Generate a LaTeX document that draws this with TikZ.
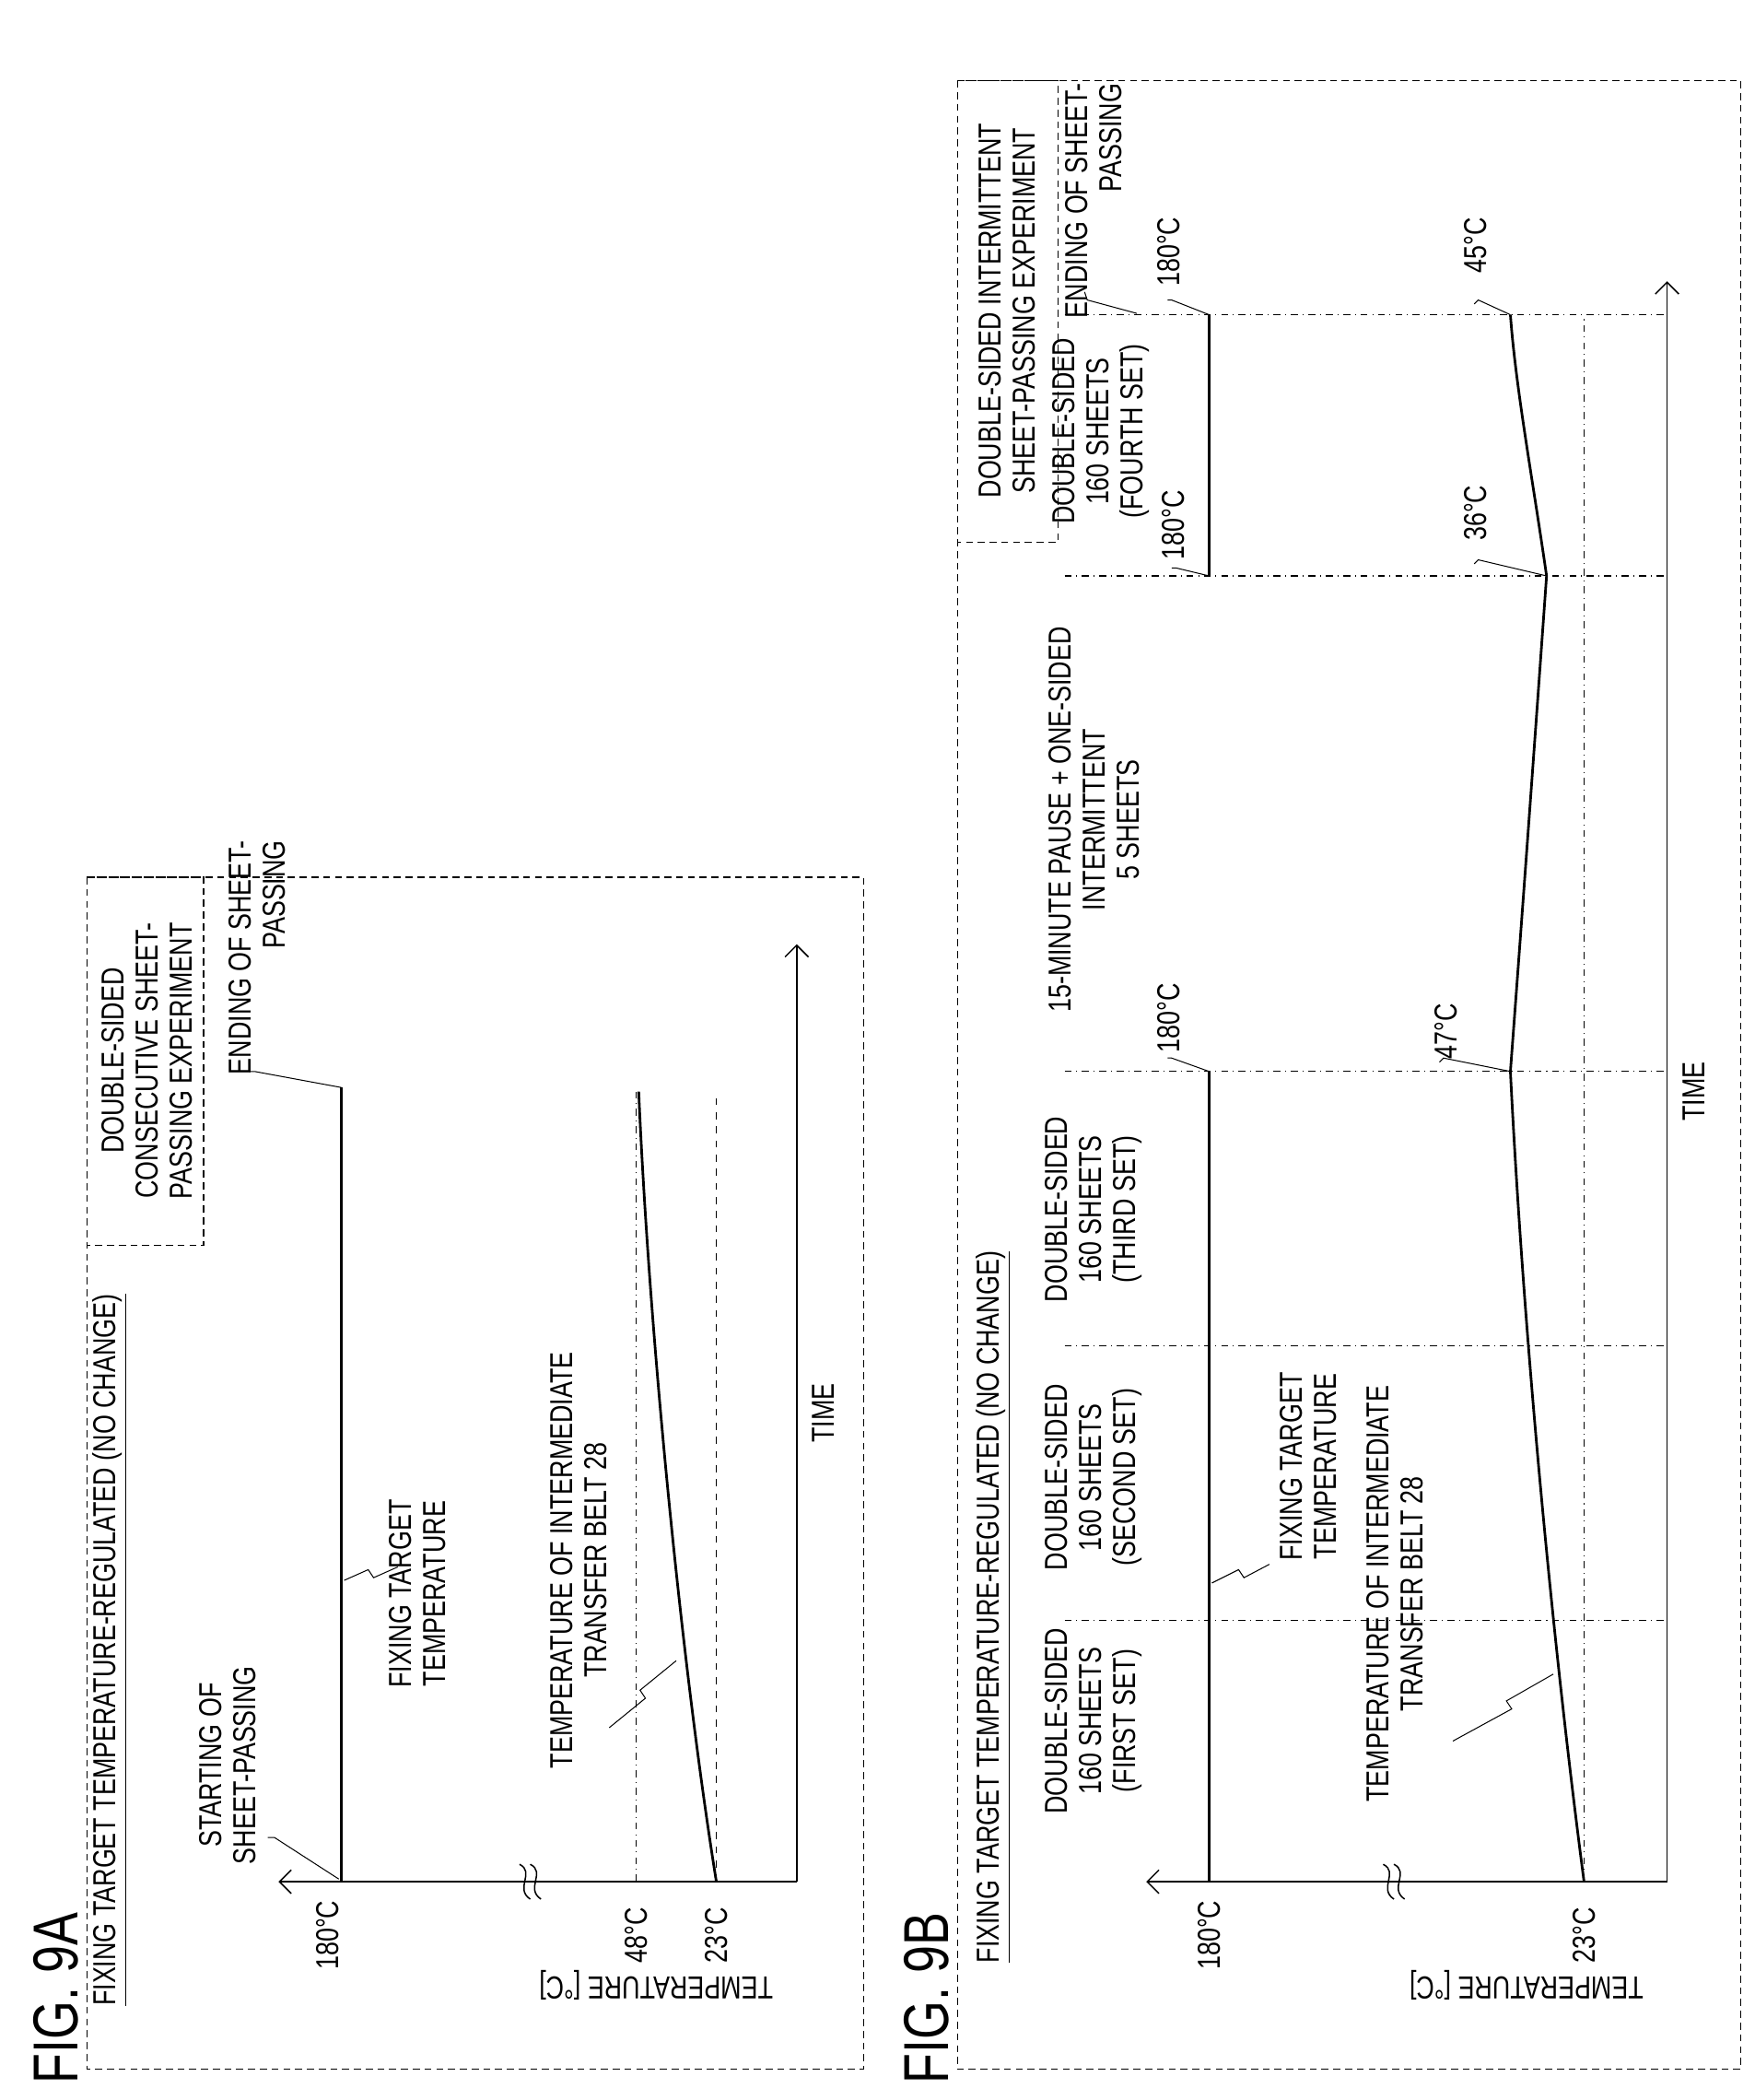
\documentclass[tikz,border=0pt]{standalone}
\usepackage{fontspec}
\setmainfont{Liberation Sans}[FakeStretch=0.78]
\usetikzlibrary{arrows.meta}
\begin{document}
\begin{tikzpicture}[x=0.02cm,y=-0.02cm]
% Estilos
\tikzset{
  lbl/.style={rotate=90, inner sep=1pt, align=center, font=\fontsize{13.5}{14.5}\selectfont},
  lblr/.style={lbl, align=right},
  fig/.style={rotate=90, inner sep=0pt, font=\fontsize{27}{27}\selectfont},
  frame/.style={densely dashed, line width=0.5pt},
  axis/.style={line width=0.6pt},
  axisarrow/.style={axis, -{Straight Barb[length=5pt]}},
  divider/.style={dash dot, line width=0.5pt},
  base/.style={dashed, line width=0.5pt},
  fixline/.style={line width=1.1pt},
  curve/.style={line width=1.1pt},
  leader/.style={line width=0.4pt}
}
\useasboundingbox (0,0) rectangle (1310,1568);

% ===== FIG. 9A =====
\node[fig] (fig_a) at (42,1492) {FIG. 9A};
\draw[frame] (65,655) rectangle (645,1545);
\draw[frame] (65,655) rectangle (152,930);
\node[lbl] (exp_a) at (110,792) {DOUBLE-SIDED\\CONSECUTIVE SHEET-\\PASSING EXPERIMENT};
\node[lbl] (head_a) at (82,1232) {\underline{FIXING TARGET TEMPERATURE-REGULATED (NO CHANGE)}};

% eixos
\draw[axisarrow] (255,1405) -- (208,1405);
\draw[axis] (255,1405) -- (595,1405);
\draw[axisarrow] (595,1405) -- (595,705);
\draw[axis] (388,1392) .. controls (400,1398) and (384,1410) .. (396,1418);
\draw[axis] (396,1392) .. controls (408,1398) and (392,1410) .. (404,1418);

% linhas de temperatura
\draw[fixline] (255,1405) -- (255,812);
\draw[divider] (475,1405) -- (475,815);
\draw[base] (535,1405) -- (535,815);
\draw[curve] (535,1405) .. controls (510,1250) and (485,1000) .. (477,815);

% rótulos
\node[lbl] (t180_a) at (245,1445) {180°C};
\node[lbl] (t48_a) at (475,1445) {48°C};
\node[lbl] (t23_a) at (535,1445) {23°C};
\node[lbl, rotate=90] (temp_a) at (490,1482) {TEMPERATURE [°C]};
\node[lbl] (time_a) at (615,1055) {TIME};
\node[lbl] (start_a) at (170,1318) {STARTING OF\\SHEET-PASSING};
\node[lbl] (fix_a) at (312,1190) {FIXING TARGET\\TEMPERATURE};
\node[lbl] (belt_a) at (432,1165) {TEMPERATURE OF INTERMEDIATE\\TRANSFER BELT 28};
\node[lblr] (end_a) at (192,715) {ENDING OF SHEET-\\PASSING};

% linhas de chamada
\draw[leader] (253,1403) -- (205,1372) -- (200,1372);
\draw[leader] (257,1180) -- (275,1172) -- (279,1178) -- (297,1170);
\draw[leader] (505,1240) -- (478,1262) -- (482,1268) -- (455,1290);
\draw[leader] (255,812) -- (190,800) -- (186,800);

% ===== FIG. 9B =====
\node[fig] (fig_b) at (692,1492) {FIG. 9B};
\draw[frame] (715,60) rectangle (1300,1545);
\draw[frame] (715,60) rectangle (790,405);
\node[lbl] (exp_b) at (752,232) {DOUBLE-SIDED INTERMITTENT\\SHEET-PASSING EXPERIMENT};
\node[lbl] (head_b) at (742,1200) {\underline{FIXING TARGET TEMPERATURE-REGULATED (NO CHANGE)}};

% eixos
\draw[axisarrow] (903,1405) -- (856,1405);
\draw[axis] (903,1405) -- (1245,1405);
\draw[axisarrow] (1245,1405) -- (1245,210);
\draw[axis] (1033,1392) .. controls (1045,1398) and (1029,1410) .. (1041,1418);
\draw[axis] (1041,1392) .. controls (1053,1398) and (1037,1410) .. (1049,1418);

% divisões
\foreach \yy in {1210,1005,800,430,235}
  \draw[divider] (795,\yy) -- (1245,\yy);
\draw[divider] (1183,1405) -- (1183,235);

% linhas de temperatura
\draw[fixline] (903,1405) -- (903,800);
\draw[fixline] (903,430) -- (903,235);
\draw[curve] (1183,1405) .. controls (1160,1230) and (1138,1000) .. (1128,800)
  .. controls (1140,640) and (1150,500) .. (1155,430) .. controls (1145,360) and (1132,290) .. (1128,235);

% rótulos das colunas
\node[lbl] (set1) at (817,1285) {DOUBLE-SIDED\\160 SHEETS\\(FIRST SET)};
\node[lbl] (set2) at (817,1103) {DOUBLE-SIDED\\160 SHEETS\\(SECOND SET)};
\node[lbl] (set3) at (817,903) {DOUBLE-SIDED\\160 SHEETS\\(THIRD SET)};
\node[lbl] (pause) at (817,612) {15-MINUTE PAUSE + ONE-SIDED\\INTERMITTENT\\5 SHEETS};
\node[lbl] (set4) at (822,322) {DOUBLE-SIDED\\160 SHEETS\\(FOURTH SET)};
\node[lblr] (end_b) at (817,150) {ENDING OF SHEET-\\PASSING};

% rótulos de temperatura
\node[lbl] (t180_b) at (903,1445) {180°C};
\node[lbl] (t23_b) at (1183,1445) {23°C};
\node[lbl, rotate=90] (temp_b) at (1140,1482) {TEMPERATURE [°C]};
\node[lbl] (time_b) at (1265,815) {TIME};
\node[lbl] (t180_c) at (873,760) {180°C};
\node[lbl] (t180_d) at (876,392) {180°C};
\node[lbl] (t180_e) at (873,188) {180°C};
\node[lbl] (t47) at (1080,770) {47°C};
\node[lbl] (t36) at (1102,383) {36°C};
\node[lbl] (t45) at (1102,183) {45°C};
\node[lbl] (fix_b) at (977,1095) {FIXING TARGET\\TEMPERATURE};
\node[lbl] (belt_b) at (1042,1190) {TEMPERATURE OF INTERMEDIATE\\TRANSFER BELT 28};

% linhas de chamada
\draw[leader] (903,800) -- (875,790) -- (872,790);
\draw[leader] (903,430) -- (878,424) -- (875,424);
\draw[leader] (903,235) -- (875,224) -- (872,224);
\draw[leader] (849,234) -- (812,224) -- (810,218);
\draw[leader] (1128,800) -- (1078,790) -- (1075,793);
\draw[leader] (1155,430) -- (1104,418) -- (1101,421);
\draw[leader] (1128,235) -- (1104,224) -- (1101,227);
\draw[leader] (905,1182) -- (925,1172) -- (929,1178) -- (948,1168);
\draw[leader] (1160,1250) -- (1125,1270) -- (1129,1276) -- (1085,1300);
\end{tikzpicture}
\end{document}
